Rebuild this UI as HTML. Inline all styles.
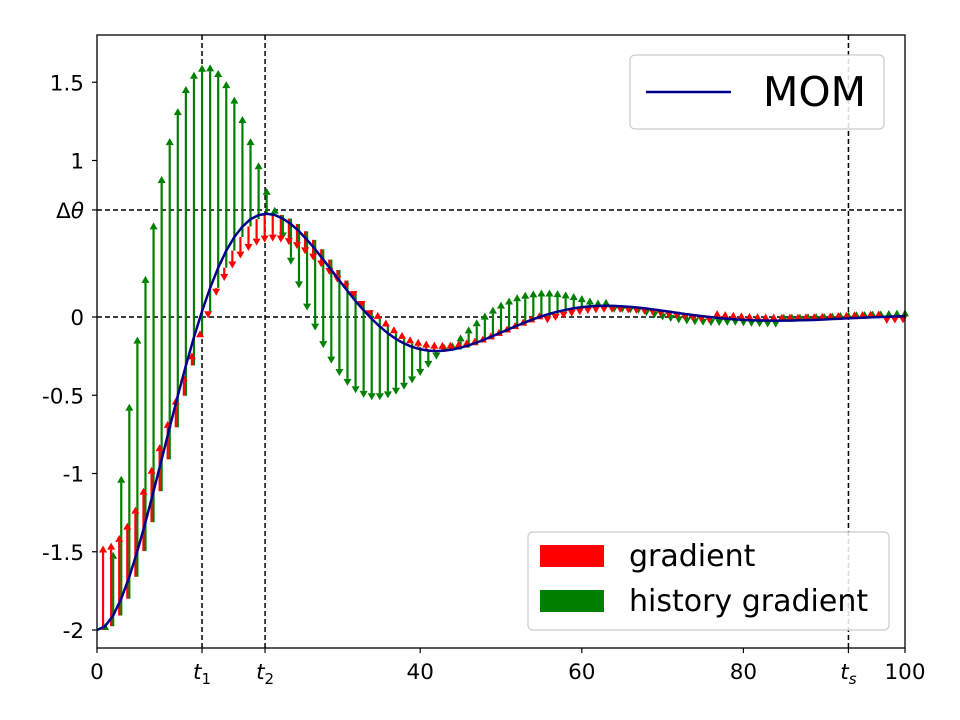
<!DOCTYPE html>
<html><head><meta charset="utf-8"><style>
body{margin:0;background:#fff;}
svg{display:block;font-family:"DejaVu Sans","Liberation Sans",sans-serif;}
</style></head><body>
<svg id="chart" width="960" height="720" xmlns="http://www.w3.org/2000/svg">
<rect width="960" height="720" fill="#fff"/>
<g id="plot"></g>
</svg>
<script>
const steps = [0,1,2,3,4,5,6,7,8,9,10,11,12,13,14,15,16,17,18,19,20,21,22,23,24,25,26,27,28,29,30,31,32,33,34,35,36,37,38,39,40,41,42,43,44,45,46,47,48,49,50,51,52,53,54,55,56,57,58,59,60,61,62,63,64,65,66,67,68,69,70,71,72,73,74,75,76,77,78,79,80,81,82,83,84,85,86,87,88,89,90,91,92,93,94,95,96,97,98,99,100];
const theta = [-2.00,-1.976,-1.907,-1.800,-1.660,-1.495,-1.311,-1.113,-0.910,-0.705,-0.503,-0.310,-0.129,0.037,0.186,0.315,0.424,0.511,0.578,0.625,0.651,
0.660,0.652,0.629,0.594,0.548,0.493,0.433,0.367,0.300,0.233,0.166,0.102,0.043,-0.012,-0.061,-0.104,-0.140,-0.169,-0.191,-0.206,-0.215,
-0.218,-0.215,-0.208,-0.196,-0.181,-0.163,-0.143,-0.121,-0.099,-0.077,-0.055,-0.034,-0.014,0.004,0.020,0.034,0.046,0.056,0.063,0.068,0.071,
0.072,0.071,0.068,0.065,0.060,0.054,0.047,0.040,0.033,0.025,0.018,0.011,0.005,-0.001,-0.007,-0.011,-0.015,-0.018,-0.021,-0.022,-0.023,
-0.024,-0.023,-0.023,-0.021,-0.020,-0.018,-0.016,-0.013,-0.011,-0.008,-0.006,-0.004,-0.002,0.000,0.002,0.004,0.005];
const gradient = [0.540,0.534,0.515,0.486,0.448,0.404,0.354,0.301,0.246,0.190,0.136,0.084,0.035,-0.010,-0.050,-0.085,-0.114,-0.138,-0.156,-0.169,-0.176,
-0.178,-0.176,-0.170,-0.160,-0.148,-0.133,-0.117,-0.099,-0.081,-0.063,-0.045,-0.028,-0.012,0.003,0.016,0.028,0.038,0.046,0.052,0.056,0.058,
0.059,0.058,0.056,0.053,0.049,0.044,0.039,0.033,0.027,0.021,0.015,0.009,0.004,-0.001,-0.005,-0.009,-0.012,-0.015,-0.017,-0.018,-0.019,
-0.019,-0.019,-0.018,-0.018,-0.016,-0.015,-0.013,-0.011,-0.009,-0.007,-0.005,-0.003,-0.001,0.001,0.002,0.003,0.004,0.005,0.006,0.006,0.006,
0.006,0.006,0.006,0.006,0.005,0.005,0.004,0.004,0.003,0.002,0.002,0.001,0.001,-0.001,-0.001,-0.001,-0.001];
const history = [0,0.476,0.893,1.246,1.535,1.758,1.916,2.014,2.053,2.040,1.979,1.877,1.741,1.577,1.392,1.192,0.984,0.773,0.565,0.364,0.174,
0.001,-0.157,-0.295,-0.411,-0.507,-0.580,-0.632,-0.665,-0.677,-0.673,-0.653,-0.619,-0.575,-0.520,-0.459,-0.393,-0.325,-0.255,-0.186,-0.120,-0.057,
0.001,0.052,0.097,0.136,0.167,0.191,0.209,0.219,0.224,0.222,0.216,0.204,0.190,0.172,0.152,0.130,0.107,0.084,0.062,0.040,0.019,
-0.001,-0.017,-0.032,-0.045,-0.055,-0.063,-0.069,-0.072,-0.074,-0.073,-0.071,-0.067,-0.063,-0.057,-0.050,-0.043,-0.035,-0.028,-0.020,-0.013,-0.006,
0.001,0.006,0.011,0.015,0.018,0.021,0.023,0.024,0.024,0.024,0.023,0.022,0.021,0.019,0.017,0.014,0.012];
const xTickVals = [0,13,20.8,40,60,80,93,100];
const xTickLabels = ["0","t1","t2","40","60","80","ts","100"];
const yTickVals = [1.5,1,0.684,0,-0.5,-1,-1.5,-2];
const yTickLabels = ["1.5","1","Δθ","0","-0.5","-1","-1.5","-2"];
const vLines = [13,20.8,93];
const hLines = [0.684,0];

const NS="http://www.w3.org/2000/svg";
const L=97,R=905,T=35,B=648;
const xS=v=>L+(v-0)/(100-0)*(R-L);
const yS=v=>317-v*156.5;
const g=document.getElementById('plot');
function el(tag,attrs,parent){const e=document.createElementNS(NS,tag);for(const k in attrs)e.setAttribute(k,attrs[k]);(parent||g).appendChild(e);return e;}

vLines.forEach(v=>{const e=el('line',{x1:xS(v),x2:xS(v),y1:T,y2:B,stroke:'#000','stroke-width':1.5,'stroke-dasharray':'5,3'});

});
hLines.forEach(v=>{const e=el('line',{x1:L,x2:R,y1:yS(v),y2:yS(v),stroke:'#000','stroke-width':1.5,'stroke-dasharray':'5,3'});

});

function arrow(x,y0,len,color,name){
  const ys=yS(y0), ye=yS(y0+len);
  const dir = len>=0?-1:1;
  const hl=7, hw=4;
  let shaftEnd = ye - dir*hl;
  if((shaftEnd-ys)*dir<0) shaftEnd=ys;
  const grp=el('g',{});
  
  
  el('line',{x1:x,x2:x,y1:ys,y2:shaftEnd,stroke:color,'stroke-width':2.2},grp);
  const tipY = Math.abs(ye-ys)<hl? ys+dir*hl : ye;
  const baseY = tipY - dir*hl;
  el('polygon',{points:`${x-hw},${baseY} ${x+hw},${baseY} ${x},${tipY}`,fill:color},grp);
}
steps.forEach((t,i)=>{ if(t+1<=100) arrow(xS(t+1),theta[i],history[i],'#008000','history-gradient-arrow'); });
steps.forEach((t,i)=>{ if(t+0.75<=100) arrow(xS(t+0.75),theta[i],gradient[i],'#ff0000','gradient-arrow'); });

const pts=steps.map((t,i)=>xS(t)+','+yS(theta[i])).join(' ');
const curve=el('polyline',{points:pts,fill:'none',stroke:'#00008b','stroke-width':2.5});



const fr=el('rect',{x:L,y:T,width:R-L,height:B-T,fill:'none',stroke:'#000','stroke-width':1.3});



xTickVals.forEach((v,i)=>{
  el('line',{x1:xS(v),x2:xS(v),y1:B,y2:B+5,stroke:'#000','stroke-width':1.2});
  const lab=xTickLabels[i];
  const tx=el('text',{x:xS(v),y:B+31,'text-anchor':'middle','font-size':21.5,fill:'#000'});
  
  
  if(lab[0]==='t'&&lab.length===2){
    const a=document.createElementNS(NS,'tspan');a.setAttribute('font-style','italic');a.textContent='t';tx.appendChild(a);
    const b=document.createElementNS(NS,'tspan');b.setAttribute('font-size',15);b.setAttribute('dy',5);b.setAttribute('font-style',lab[1]==='s'?'italic':'normal');b.textContent=lab[1];tx.appendChild(b);
  } else tx.textContent=lab;
});
yTickVals.forEach((v,i)=>{
  el('line',{x1:L-5,x2:L,y1:yS(v),y2:yS(v),stroke:'#000','stroke-width':1.2});
  const lab=yTickLabels[i];
  const tx=el('text',{x:L-13,y:yS(v)+8,'text-anchor':'end','font-size':21.5,fill:'#000'});
  
  
  if(lab==='Δθ'){
    tx.appendChild(document.createTextNode('Δ'));
    const a=document.createElementNS(NS,'tspan');a.setAttribute('font-style','italic');a.textContent='θ';tx.appendChild(a);
  } else tx.textContent=lab;
});
</script>
<svg style="position:absolute;left:0;top:0" width="960" height="720" xmlns="http://www.w3.org/2000/svg">
<g>
<rect x="630" y="55" width="254" height="74" rx="5" fill="#fff" fill-opacity="0.85" stroke="#ccc" stroke-width="1.2"/>
<line x1="646" x2="731" y1="92" y2="92" stroke="#00008b" stroke-width="2.5"/>
<text x="763" y="106" font-size="41" font-family="DejaVu Sans, Liberation Sans, sans-serif">MOM</text>
</g>
<g>
<rect x="528" y="532" width="361" height="98" rx="5" fill="#fff" fill-opacity="0.85" stroke="#ccc" stroke-width="1.2"/>
<rect x="540" y="545" width="64" height="22" fill="#ff0000"/>
<text x="629" y="566" font-size="30" font-family="DejaVu Sans, Liberation Sans, sans-serif">gradient</text>
<rect x="540" y="590" width="64" height="22" fill="#008000"/>
<text x="629" y="611" font-size="30" font-family="DejaVu Sans, Liberation Sans, sans-serif">history gradient</text>
</g>
</svg>
</body></html>
